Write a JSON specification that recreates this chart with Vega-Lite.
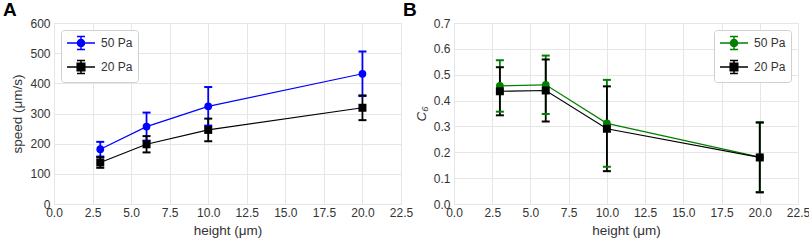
{
  "$schema": "https://vega.github.io/schema/vega-lite/v6.json",
  "padding": {"left": 2, "top": 0, "right": 2, "bottom": 1},
  "datasets": {
    "A": [
      {"series": "50 Pa", "h": 3, "v": 181.7, "lo": 157.4, "hi": 206},
      {"series": "50 Pa", "h": 6, "v": 256.6, "lo": 210.2, "hi": 303},
      {"series": "50 Pa", "h": 10, "v": 323.8, "lo": 259.9, "hi": 387.7},
      {"series": "50 Pa", "h": 20, "v": 431.7, "lo": 357.9, "hi": 505.5},
      {"series": "20 Pa", "h": 3, "v": 137.7, "lo": 120, "hi": 155},
      {"series": "20 Pa", "h": 6, "v": 198, "lo": 171, "hi": 225},
      {"series": "20 Pa", "h": 10, "v": 245.6, "lo": 208, "hi": 283},
      {"series": "20 Pa", "h": 20, "v": 319, "lo": 278, "hi": 360}
    ],
    "B": [
      {"series": "50 Pa", "h": 3, "v": 0.457, "lo": 0.357, "hi": 0.556},
      {"series": "50 Pa", "h": 6, "v": 0.461, "lo": 0.348, "hi": 0.574},
      {"series": "50 Pa", "h": 10, "v": 0.312, "lo": 0.144, "hi": 0.48},
      {"series": "50 Pa", "h": 20, "v": 0.181, "lo": 0.046, "hi": 0.316},
      {"series": "20 Pa", "h": 3, "v": 0.436, "lo": 0.343, "hi": 0.529},
      {"series": "20 Pa", "h": 6, "v": 0.439, "lo": 0.319, "hi": 0.559},
      {"series": "20 Pa", "h": 10, "v": 0.291, "lo": 0.127, "hi": 0.455},
      {"series": "20 Pa", "h": 20, "v": 0.18, "lo": 0.045, "hi": 0.315}
    ]
  },
  "config": {
    "font": "Liberation Sans",
    "view": {"stroke": "#d6d6d6", "strokeWidth": 1},
    "axis": {
      "grid": true, "gridColor": "#e6e6e6", "gridWidth": 1, "domain": false, "ticks": false,
      "labelColor": "#333333", "titleColor": "#333333", "labelFontSize": 12, "titleFontSize": 13.5,
      "titleFontWeight": "normal", "labelPadding": 3, "titlePadding": 5,
      "labelFlush": false, "labelOverlap": false, "labelBound": false
    },
    "axisY": {"labelPadding": 4, "titlePadding": 5},
    "legend": {
      "title": null, "labelFontSize": 12, "labelColor": "#333333", "fillColor": "white",
      "strokeColor": "#d0d0d0", "cornerRadius": 3, "padding": 5, "rowPadding": 4,
      "labelOffset": 12, "symbolSize": 196, "symbolOffset": 7, "offset": 7
    },
    "title": {"fontSize": 19, "fontWeight": "bold", "color": "black", "anchor": "start", "frame": "group", "offset": -3}
  },
  "resolve": {"scale": {"color": "independent"}, "legend": {"color": "independent"}},
  "bounds": "flush",
  "spacing": 53,
  "hconcat": [
    {
      "width": 347, "height": 181,
      "title": {"text": "A", "dx": -51},
      "data": {"name": "A"},
      "encoding": {
        "x": {"field": "h", "type": "quantitative", "title": "height (μm)",
              "scale": {"domain": [0, 22.5], "nice": false},
              "axis": {"values": [0, 2.5, 5, 7.5, 10, 12.5, 15, 17.5, 20, 22.5], "format": ".1f"}},
        "color": {"field": "series", "type": "nominal",
                  "scale": {"domain": ["50 Pa", "20 Pa"], "range": ["#0000ff", "#000000"]},
                  "legend": {"orient": "top-left",
                    "encode": {"symbols": {"update": {
                      "shape": {"signal": "datum.value === '50 Pa' ? 'M-2,0H2M0,-0.93V0.93M-0.57,-0.93H0.57M-0.57,0.93H0.57M0.5,0A0.5,0.5 0 1,1 -0.5,0A0.5,0.5 0 1,1 0.5,0Z' : 'M-2,0H2M0,-0.93V0.93M-0.57,-0.93H0.57M-0.57,0.93H0.57M-0.54,-0.54H0.54V0.54H-0.54Z'"},
                      "fill": {"signal": "datum.value === '50 Pa' ? '#0000ff' : '#000000'"},
                      "stroke": {"signal": "datum.value === '50 Pa' ? '#0000ff' : '#000000'"},
                      "strokeWidth": {"value": 1.5},
                      "opacity": {"value": 1}
                    }}}}}
      },
      "layer": [
        {"mark": {"type": "rule", "strokeWidth": 1.8},
         "encoding": {"y": {"field": "lo", "type": "quantitative", "title": "speed (μm/s)",
                            "scale": {"domain": [0, 600], "nice": false},
                            "axis": {"values": [0, 100, 200, 300, 400, 500, 600]}},
                      "y2": {"field": "hi"}}},
        {"mark": {"type": "tick", "orient": "horizontal", "size": 8, "thickness": 2, "opacity": 1},
         "encoding": {"y": {"field": "lo", "type": "quantitative", "title": "speed (μm/s)",
                            "scale": {"domain": [0, 600], "nice": false},
                            "axis": {"values": [0, 100, 200, 300, 400, 500, 600]}}}},
        {"mark": {"type": "tick", "orient": "horizontal", "size": 8, "thickness": 2, "opacity": 1},
         "encoding": {"y": {"field": "hi", "type": "quantitative", "title": "speed (μm/s)",
                            "scale": {"domain": [0, 600], "nice": false},
                            "axis": {"values": [0, 100, 200, 300, 400, 500, 600]}}}},
        {"mark": {"type": "line", "strokeWidth": 1.2},
         "encoding": {"y": {"field": "v", "type": "quantitative", "title": "speed (μm/s)",
                            "scale": {"domain": [0, 600], "nice": false},
                            "axis": {"values": [0, 100, 200, 300, 400, 500, 600]}}}},
        {"transform": [{"filter": "datum.series === '50 Pa'"}],
         "mark": {"type": "point", "shape": "circle", "filled": true, "opacity": 1, "size": 60},
         "encoding": {"y": {"field": "v", "type": "quantitative", "title": "speed (μm/s)",
                            "scale": {"domain": [0, 600], "nice": false},
                            "axis": {"values": [0, 100, 200, 300, 400, 500, 600]}}}},
        {"transform": [{"filter": "datum.series === '20 Pa'"}],
         "mark": {"type": "point", "shape": "square", "filled": true, "opacity": 1, "size": 64},
         "encoding": {"y": {"field": "v", "type": "quantitative", "title": "speed (μm/s)",
                            "scale": {"domain": [0, 600], "nice": false},
                            "axis": {"values": [0, 100, 200, 300, 400, 500, 600]}}}}
      ]
    },
    {
      "width": 344, "height": 181,
      "title": {"text": "B", "dx": -51},
      "data": {"name": "B"},
      "encoding": {
        "x": {"field": "h", "type": "quantitative", "title": "height (μm)",
              "scale": {"domain": [0, 22.5], "nice": false},
              "axis": {"values": [0, 2.5, 5, 7.5, 10, 12.5, 15, 17.5, 20, 22.5], "format": ".1f"}},
        "color": {"field": "series", "type": "nominal",
                  "scale": {"domain": ["50 Pa", "20 Pa"], "range": ["#008000", "#000000"]},
                  "legend": {"orient": "top-right",
                    "encode": {"symbols": {"update": {
                      "shape": {"signal": "datum.value === '50 Pa' ? 'M-2,0H2M0,-0.93V0.93M-0.57,-0.93H0.57M-0.57,0.93H0.57M0.5,0A0.5,0.5 0 1,1 -0.5,0A0.5,0.5 0 1,1 0.5,0Z' : 'M-2,0H2M0,-0.93V0.93M-0.57,-0.93H0.57M-0.57,0.93H0.57M-0.54,-0.54H0.54V0.54H-0.54Z'"},
                      "fill": {"signal": "datum.value === '50 Pa' ? '#008000' : '#000000'"},
                      "stroke": {"signal": "datum.value === '50 Pa' ? '#008000' : '#000000'"},
                      "strokeWidth": {"value": 1.5},
                      "opacity": {"value": 1}
                    }}}}}
      },
      "layer": [
        {"mark": {"type": "rule", "strokeWidth": 1.8},
         "encoding": {"y": {"field": "lo", "type": "quantitative", "title": "C₆",
                            "scale": {"domain": [0, 0.7], "nice": false},
                            "axis": {"values": [0, 0.1, 0.2, 0.3, 0.4, 0.5, 0.6, 0.7], "format": ".1f", "titleFontStyle": "italic"}},
                      "y2": {"field": "hi"}}},
        {"mark": {"type": "tick", "orient": "horizontal", "size": 8, "thickness": 2, "opacity": 1},
         "encoding": {"y": {"field": "lo", "type": "quantitative", "title": "C₆",
                            "scale": {"domain": [0, 0.7], "nice": false},
                            "axis": {"values": [0, 0.1, 0.2, 0.3, 0.4, 0.5, 0.6, 0.7], "format": ".1f", "titleFontStyle": "italic"}}}},
        {"mark": {"type": "tick", "orient": "horizontal", "size": 8, "thickness": 2, "opacity": 1},
         "encoding": {"y": {"field": "hi", "type": "quantitative", "title": "C₆",
                            "scale": {"domain": [0, 0.7], "nice": false},
                            "axis": {"values": [0, 0.1, 0.2, 0.3, 0.4, 0.5, 0.6, 0.7], "format": ".1f", "titleFontStyle": "italic"}}}},
        {"mark": {"type": "line", "strokeWidth": 1.2},
         "encoding": {"y": {"field": "v", "type": "quantitative", "title": "C₆",
                            "scale": {"domain": [0, 0.7], "nice": false},
                            "axis": {"values": [0, 0.1, 0.2, 0.3, 0.4, 0.5, 0.6, 0.7], "format": ".1f", "titleFontStyle": "italic"}}}},
        {"transform": [{"filter": "datum.series === '50 Pa'"}],
         "mark": {"type": "point", "shape": "circle", "filled": true, "opacity": 1, "size": 60},
         "encoding": {"y": {"field": "v", "type": "quantitative", "title": "C₆",
                            "scale": {"domain": [0, 0.7], "nice": false},
                            "axis": {"values": [0, 0.1, 0.2, 0.3, 0.4, 0.5, 0.6, 0.7], "format": ".1f", "titleFontStyle": "italic"}}}},
        {"transform": [{"filter": "datum.series === '20 Pa'"}],
         "mark": {"type": "point", "shape": "square", "filled": true, "opacity": 1, "size": 64},
         "encoding": {"y": {"field": "v", "type": "quantitative", "title": "C₆",
                            "scale": {"domain": [0, 0.7], "nice": false},
                            "axis": {"values": [0, 0.1, 0.2, 0.3, 0.4, 0.5, 0.6, 0.7], "format": ".1f", "titleFontStyle": "italic"}}}}
      ]
    }
  ]
}
